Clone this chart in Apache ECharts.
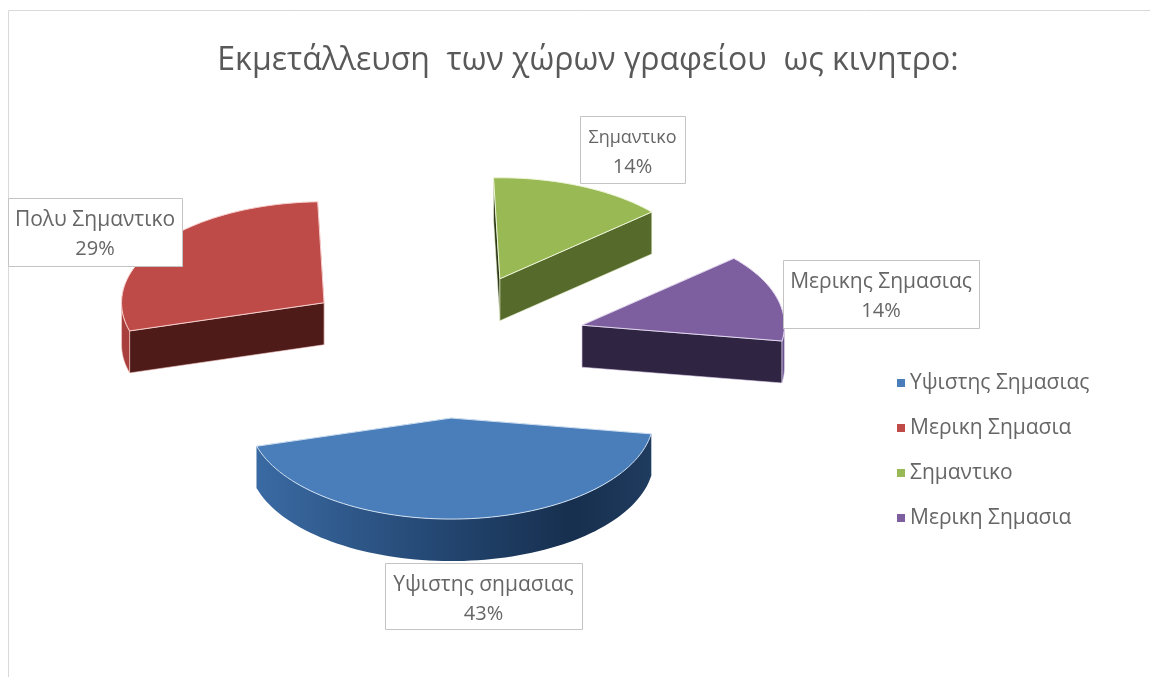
<!DOCTYPE html>
<html>
<head>
<meta charset="utf-8">
<title>Εκμετάλλευση των χώρων γραφείου ως κινητρο</title>
<style>html,body{margin:0;padding:0;background:#fff}#chart{width:1150px;height:677px}</style>
<script src="https://cdn.jsdelivr.net/npm/echarts@6/dist/echarts.min.js"></script>
</head>
<body>
<div id="chart"></div>
<script>
// Chart content
const chartTitle = 'Εκμετάλλευση  των χώρων γραφείου  ως κινητρο:';
const legendLabels = ['Υψιστης Σημασιας', 'Μερικη Σημασια', 'Σημαντικο', 'Μερικη Σημασια'];
const sliceLabels = ['Υψιστης σημασιας', 'Πολυ Σημαντικο', 'Σημαντικο', 'Μερικης Σημασιας'];
const percentages = [43, 29, 14, 14];

// Slice colours: top face, cut faces, outer wall, edge highlight
const topColors = ['#4a7ebb', '#be4b48', '#98b954', '#7d5fa0'];
const cutColors = ['#1f3a5c', '#4f1b18', '#566b2b', '#2f2542'];
const wallColors = ['#2f5c92', '#a83f3c', '#3a4a1c', '#6a5590'];
const edgeColors = ['#cfe0f2', '#f6cfcd', '#eef5d8', '#e2d6ee'];

// Label box geometry, in page pixels: left, top, width, height
const labelBoxes = [
  [385, 563, 197, 66],
  [8, 198, 174, 68],
  [580, 116, 105, 67],
  [783, 260, 196, 68]
];
const labelNameSizes = [21, 21, 18, 21];
const labelPercentSize = 20;

// Projection of the tilted pie
const pie = { cx: 442, cy: 345.5, rx: 202.5, ry: 101, depth: 42, explode: 0.72, startDeg: 99 };
const total = percentages.reduce((a, b) => a + b, 0);
const fontStack = '"Open Sans", "Noto Sans", sans-serif';

function sliceAngles(i) {
  const before = percentages.slice(0, i).reduce((a, b) => a + b, 0);
  return [
    pie.startDeg + before / total * 360,
    pie.startDeg + (before + percentages[i]) / total * 360
  ];
}

function renderSlice(params, api) {
  const i = params.seriesIndex;
  const value = api.value(0);
  const [a0, a1] = sliceAngles(i);
  const rad = d => d * Math.PI / 180;
  const mid = rad((a0 + a1) / 2);
  const ox = pie.cx + pie.explode * pie.rx * Math.sin(mid);
  const oy = pie.cy - pie.explode * pie.ry * Math.cos(mid);
  const rim = d => [ox + pie.rx * Math.sin(rad(d)), oy - pie.ry * Math.cos(rad(d))];
  const drop = p => [p[0], p[1] + pie.depth];

  const arcPoints = (from, to) => {
    const pts = [];
    const n = Math.max(2, Math.ceil(Math.abs(to - from) / 2));
    for (let k = 0; k <= n; k++) pts.push(rim(from + (to - from) * k / n));
    return pts;
  };

  const children = [];
  const apex = [ox, oy];
  const cutFace = (deg, fill) => {
    const p = rim(deg);
    children.push({
      type: 'polygon',
      shape: { points: [apex, p, drop(p), drop(apex)] },
      style: { fill: fill, stroke: edgeColors[i], lineWidth: 0.6 }
    });
  };
  const startsBack = Math.cos(rad(a0)) > Math.cos(rad(a1));
  cutFace(startsBack ? a0 : a1, i === 2 ? '#2c3816' : cutColors[i]);
  cutFace(startsBack ? a1 : a0, cutColors[i]);

  // Outer wall: only the stretch of the rim on the near side of the ellipse
  const wallRanges = [[90, 270], [450, 630]];
  wallRanges.forEach(([lo, hi]) => {
    const from = Math.max(a0, lo);
    const to = Math.min(a1, hi);
    if (to <= from) return;
    const arc = arcPoints(from, to);
    const fill = i === 0
      ? {
          type: 'linear', x: 0, y: 0, x2: 1, y2: 0,
          colorStops: [
            { offset: 0, color: '#3a6aa3' },
            { offset: 0.5, color: '#22446e' },
            { offset: 0.8, color: '#172f4e' },
            { offset: 1, color: '#1f3b5e' }
          ]
        }
      : wallColors[i];
    children.push({
      type: 'polygon',
      shape: { points: arc.concat(arc.map(drop).reverse()) },
      style: { fill: fill, stroke: i === 0 ? null : edgeColors[i], lineWidth: 0.6 }
    });
  });

  // Top face
  children.push({
    type: 'polygon',
    shape: { points: [apex].concat(arcPoints(a0, a1)) },
    style: { fill: topColors[i], stroke: edgeColors[i], lineWidth: 1, lineJoin: 'round' }
  });

  // Data label in its box
  const [bx, by, bw, bh] = labelBoxes[i];
  children.push({
    type: 'rect',
    shape: { x: bx + 0.5, y: by + 0.5, width: bw, height: bh },
    style: { fill: '#ffffff', stroke: '#c4c4c4', lineWidth: 1 }
  });
  children.push({
    type: 'text',
    style: {
      x: bx + bw / 2,
      y: by + 22,
      text: sliceLabels[i],
      fill: '#666666',
      font: labelNameSizes[i] + 'px ' + fontStack,
      align: 'center',
      verticalAlign: 'middle'
    }
  });
  children.push({
    type: 'text',
    style: {
      x: bx + bw / 2,
      y: by + 51,
      text: value + '%',
      fill: '#666666',
      font: labelPercentSize + 'px ' + fontStack,
      align: 'center',
      verticalAlign: 'middle'
    }
  });

  return { type: 'group', children: children };
}

// Legend entries must be unique keys, so repeated wording gets an invisible suffix
const legendKeys = legendLabels.map((t, i) => t + '\u200b'.repeat(i));

const chart = echarts.init(document.getElementById('chart'), null, { renderer: 'canvas' });
chart.setOption({
  animation: false,
  backgroundColor: '#ffffff',
  title: {
    text: chartTitle,
    left: 583,
    top: 40,
    textAlign: 'center',
    textStyle: {
      fontFamily: fontStack,
      fontWeight: 'normal',
      fontSize: 32,
      color: '#595959'
    }
  },
  legend: {
    orient: 'vertical',
    left: 892,
    top: 366,
    icon: 'rect',
    itemWidth: 8,
    itemHeight: 8,
    itemGap: 21,
    data: legendKeys,
    selectedMode: false,
    formatter: n => n.replace(/\u200b/g, ''),
    textStyle: {
      fontFamily: fontStack,
      fontSize: 21,
      lineHeight: 24,
      color: '#666666'
    }
  },
  graphic: [
    {
      type: 'polyline',
      silent: true,
      shape: { points: [[8.5, 677], [8.5, 10.5], [1150, 10.5]] },
      style: { stroke: '#d9d9d9', lineWidth: 1, fill: null }
    }
  ],
  series: percentages.map((v, i) => ({
    type: 'custom',
    name: legendKeys[i],
    coordinateSystem: 'none',
    silent: true,
    itemStyle: { color: topColors[i] },
    renderItem: renderSlice,
    data: [[v]]
  }))
});
</script>
</body>
</html>
